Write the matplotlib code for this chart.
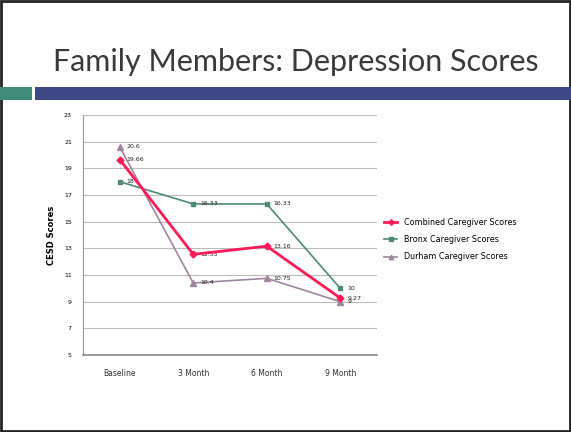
import matplotlib.pyplot as plt
from matplotlib.patches import Rectangle

categories = ['Baseline', '3 Month', '6 Month', '9 Month']
combined = [19.66, 12.55, 13.16, 9.27]
bronx = [18, 16.33, 16.33, 10]
durham = [20.6, 10.4, 10.75, 9]
combined_labels = ['19.66', '12.55', '13.16', '9.27']
bronx_labels = ['18', '16.33', '16.33', '10']
durham_labels = ['20.6', '10.4', '10.75', '9']
yticks = [5, 7, 9, 11, 13, 15, 17, 19, 21, 23]

fig = plt.figure(figsize=(5.71, 4.32), dpi=100)
fig.patch.set_facecolor('white')

# slide frame and title band
fig.patches.append(Rectangle((0.002, 0.002), 0.996, 0.996, transform=fig.transFigure,
                             fill=False, edgecolor='#222222', linewidth=2))
fig.patches.append(Rectangle((0, 1 - 100/432), 32/571, 13/432, transform=fig.transFigure,
                             facecolor='#3f8a78', edgecolor='none'))
fig.patches.append(Rectangle((35/571, 1 - 100/432), 1 - 35/571, 13/432, transform=fig.transFigure,
                             facecolor='#3f4886', edgecolor='none'))
fig.text(0.518, 1 - 62/432, 'Family Members: Depression Scores', ha='center', va='center',
         fontsize=22, color='#3a3a3a', family='Lato')

ax = fig.add_axes([83/571, 77/432, 294/571, 240/432])
x = range(len(categories))

ax.plot(x, bronx, color='#4f8a72', marker='s', markersize=3.5, linewidth=1.2,
        label='Bronx Caregiver Scores', zorder=3)
ax.plot(x, durham, color='#a084a0', marker='^', markersize=4, linewidth=1.2,
        label='Durham Caregiver Scores', zorder=3)
ax.plot(x, combined, color='#ff1a55', marker='D', markersize=3.5, linewidth=2,
        label='Combined Caregiver Scores', zorder=4)

for xs, vals, labs in [(x, combined, combined_labels), (x, bronx, bronx_labels), (x, durham, durham_labels)]:
    for xi, v, t in zip(xs, vals, labs):
        ax.annotate(t, (xi, v), xytext=(5, 0), textcoords='offset points',
                    fontsize=4.5, va='center', color='#222222')

ax.set_xlim(-0.5, 3.5)
ax.set_ylim(5, 23)
ax.set_yticks(yticks)
ax.set_xticks(list(x))
ax.set_xticklabels(categories, fontsize=5.5, color='#333333')
ax.tick_params(axis='y', labelsize=4.5, length=0, pad=8)
ax.tick_params(axis='x', length=0, pad=10)
ax.grid(axis='y', color='#bbbbbb', linewidth=0.8)
ax.set_axisbelow(True)
for s in ['top', 'right']:
    ax.spines[s].set_visible(False)
ax.spines['left'].set_color('#999999')
ax.spines['bottom'].set_color('#888888')
ax.spines['bottom'].set_linewidth(1.2)
ax.set_ylabel('CESD Scores', fontsize=6, fontweight='bold', labelpad=6)

h, l = ax.get_legend_handles_labels()
order = [2, 0, 1]
ax.legend([h[i] for i in order], [l[i] for i in order], loc='center left',
          bbox_to_anchor=(1.0, 0.48), frameon=False, fontsize=5.8,
          handlelength=1.6, labelspacing=1.0, markerscale=0.8)

fig.savefig('out.png', dpi=100)
